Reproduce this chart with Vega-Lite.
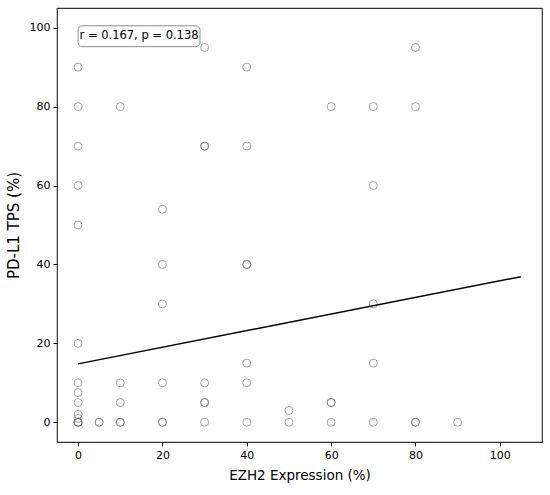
{
  "$schema": "https://vega.github.io/schema/vega-lite/v6.json",
  "width": 485,
  "height": 434,
  "autosize": "none",
  "padding": {"left": 57, "top": 8, "right": 8, "bottom": 53},
  "background": "white",
  "config": {
    "font": "DejaVu Sans",
    "view": {"stroke": "#333333", "strokeWidth": 1.2},
    "axis": {
      "domain": false,
      "grid": false,
      "tickColor": "#000000",
      "tickSize": 4,
      "labelColor": "#000000",
      "labelFontSize": 11,
      "labelPadding": 3,
      "titleColor": "#000000",
      "titleFontWeight": "normal"
    }
  },
  "datasets": {
    "points": [
      {"ezh2": 0, "tps": 90}, {"ezh2": 0, "tps": 80}, {"ezh2": 0, "tps": 70},
      {"ezh2": 0, "tps": 60}, {"ezh2": 0, "tps": 50}, {"ezh2": 0, "tps": 20},
      {"ezh2": 0, "tps": 10}, {"ezh2": 0, "tps": 7.5}, {"ezh2": 0, "tps": 5},
      {"ezh2": 0, "tps": 2}, {"ezh2": 0, "tps": 1}, {"ezh2": 0, "tps": 0},
      {"ezh2": 0, "tps": 0}, {"ezh2": 0, "tps": 0},
      {"ezh2": 5, "tps": 0}, {"ezh2": 5, "tps": 0},
      {"ezh2": 10, "tps": 80}, {"ezh2": 10, "tps": 10}, {"ezh2": 10, "tps": 5},
      {"ezh2": 10, "tps": 0}, {"ezh2": 10, "tps": 0},
      {"ezh2": 20, "tps": 54}, {"ezh2": 20, "tps": 40}, {"ezh2": 20, "tps": 30},
      {"ezh2": 20, "tps": 10}, {"ezh2": 20, "tps": 0}, {"ezh2": 20, "tps": 0},
      {"ezh2": 30, "tps": 95}, {"ezh2": 30, "tps": 70}, {"ezh2": 30, "tps": 70},
      {"ezh2": 30, "tps": 10}, {"ezh2": 30, "tps": 5}, {"ezh2": 30, "tps": 5},
      {"ezh2": 30, "tps": 0},
      {"ezh2": 40, "tps": 90}, {"ezh2": 40, "tps": 70}, {"ezh2": 40, "tps": 40},
      {"ezh2": 40, "tps": 40}, {"ezh2": 40, "tps": 15}, {"ezh2": 40, "tps": 10},
      {"ezh2": 40, "tps": 0},
      {"ezh2": 50, "tps": 3}, {"ezh2": 50, "tps": 0},
      {"ezh2": 60, "tps": 80}, {"ezh2": 60, "tps": 5}, {"ezh2": 60, "tps": 5},
      {"ezh2": 60, "tps": 0},
      {"ezh2": 70, "tps": 80}, {"ezh2": 70, "tps": 60}, {"ezh2": 70, "tps": 30},
      {"ezh2": 70, "tps": 15}, {"ezh2": 70, "tps": 0},
      {"ezh2": 80, "tps": 95}, {"ezh2": 80, "tps": 80}, {"ezh2": 80, "tps": 0},
      {"ezh2": 80, "tps": 0},
      {"ezh2": 90, "tps": 0}
    ],
    "fit": [
      {"ezh2": 0, "tps": 14.8},
      {"ezh2": 105, "tps": 36.9}
    ],
    "note": [
      {"x0": 0, "x1": 28.9, "y0": 95.2, "y1": 100.5, "xm": 14.45, "ym": 97.8, "label": "r = 0.167, p = 0.138"}
    ]
  },
  "layer": [
    {
      "data": {"name": "points"},
      "mark": {"type": "point", "shape": "circle", "filled": false, "size": 64, "stroke": "#666666", "strokeWidth": 1, "strokeOpacity": 0.85},
      "encoding": {
        "x": {
          "field": "ezh2", "type": "quantitative",
          "scale": {"domain": [-5, 110], "nice": false, "zero": false},
          "axis": {"values": [0, 20, 40, 60, 80, 100], "title": "EZH2 Expression (%)", "titleFontSize": 13.5, "titlePadding": 8}
        },
        "y": {
          "field": "tps", "type": "quantitative",
          "scale": {"domain": [-5, 105], "nice": false, "zero": false},
          "axis": {"values": [0, 20, 40, 60, 80, 100], "title": "PD-L1 TPS (%)", "titleFontSize": 15, "titlePadding": 8}
        }
      }
    },
    {
      "data": {"name": "fit"},
      "mark": {"type": "line", "color": "#000000", "strokeWidth": 1.5},
      "encoding": {
        "x": {"field": "ezh2", "type": "quantitative"},
        "y": {"field": "tps", "type": "quantitative"}
      }
    },
    {
      "data": {"name": "note"},
      "mark": {"type": "rect", "fill": "white", "stroke": "#8c8c8c", "strokeWidth": 1, "cornerRadius": 4},
      "encoding": {
        "x": {"field": "x0", "type": "quantitative"},
        "x2": {"field": "x1"},
        "y": {"field": "y0", "type": "quantitative"},
        "y2": {"field": "y1"}
      }
    },
    {
      "data": {"name": "note"},
      "mark": {"type": "text", "fontSize": 11.5, "color": "#000000", "align": "center", "baseline": "middle"},
      "encoding": {
        "x": {"field": "xm", "type": "quantitative"},
        "y": {"field": "ym", "type": "quantitative"},
        "text": {"field": "label"}
      }
    }
  ]
}
